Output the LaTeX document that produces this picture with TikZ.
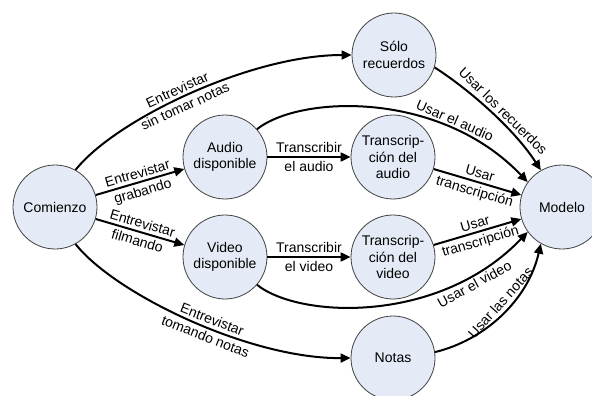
\documentclass[tikz,border=0pt]{standalone}
\usepackage{fontspec}
\setmainfont{Liberation Sans}
\usetikzlibrary{arrows.meta}
\definecolor{nodefill}{RGB}{228,234,246}
\begin{document}
\begin{tikzpicture}[x=1pt,y=-1pt,
  st/.style={circle, draw=black!75, line width=0.8pt, fill=nodefill, minimum size=84pt, inner sep=0pt, align=center, font=\fontsize{14}{16.5}\selectfont},
  conn/.style={line width=2pt, -{Triangle[length=10pt,width=9pt]}},
  lbl/.style={font=\fontsize{14}{16}\selectfont, sloped, inner sep=3pt}]
\useasboundingbox (0,0) rectangle (592,396);
\node[st] (com) at (55,207) {Comienzo};
\node[st] (solo) at (394,55) {Sólo\\recuerdos};
\node[st] (aud) at (225,157) {Audio\\disponible};
\node[st] (taud) at (393,157) {Transcrip-\\ción del\\audio};
\node[st] (vid) at (225,257) {Video\\disponible};
\node[st] (tvid) at (393,257) {Transcrip-\\ción del\\video};
\node[st] (notas) at (393,358) {Notas};
\node[st] (mod) at (562,207) {Modelo};

\draw[conn] (com.61) .. controls (115,120) and (250,55) .. (solo.180)
  node[lbl,pos=0.47,above]{Entrevistar} node[lbl,pos=0.47,below]{sin tomar notas};
\draw[conn] (com) -- (aud)
  node[lbl,midway,above]{Entrevistar} node[lbl,midway,below]{grabando};
\draw[conn] (com) -- (vid)
  node[lbl,midway,above]{Entrevistar} node[lbl,midway,below]{filmando};
\draw[conn] (com.-61) .. controls (115,294) and (250,359) .. (notas.180)
  node[lbl,pos=0.56,above]{Entrevistar} node[lbl,pos=0.56,below]{tomando notas};
\draw[conn] (aud) -- (taud)
  node[lbl,midway,above]{Transcribir} node[lbl,midway,below]{el audio};
\draw[conn] (vid) -- (tvid)
  node[lbl,midway,above]{Transcribir} node[lbl,midway,below]{el video};
\draw[conn] (solo.-17) .. controls (470,90) and (515,130) .. (mod.120)
  node[lbl,pos=0.55,above]{Usar los recuerdos};
\draw[conn] (aud.41) .. controls (300,95) and (440,90) .. (mod.144)
  node[lbl,pos=0.74,above]{Usar el audio};
\draw[conn] (taud) -- (mod)
  node[lbl,midway,above]{Usar} node[lbl,midway,below]{transcripción};
\draw[conn] (tvid) -- (mod)
  node[lbl,midway,above]{Usar} node[lbl,midway,below]{transcripción};
\draw[conn] (vid.-41) .. controls (300,319) and (440,324) .. (mod.-144)
  node[lbl,pos=0.8,below]{Usar el video};
\draw[conn] (notas.8) .. controls (485,340) and (528,300) .. (mod.240)
  node[lbl,pos=0.55,above]{Usar las notas};
\end{tikzpicture}
\end{document}
